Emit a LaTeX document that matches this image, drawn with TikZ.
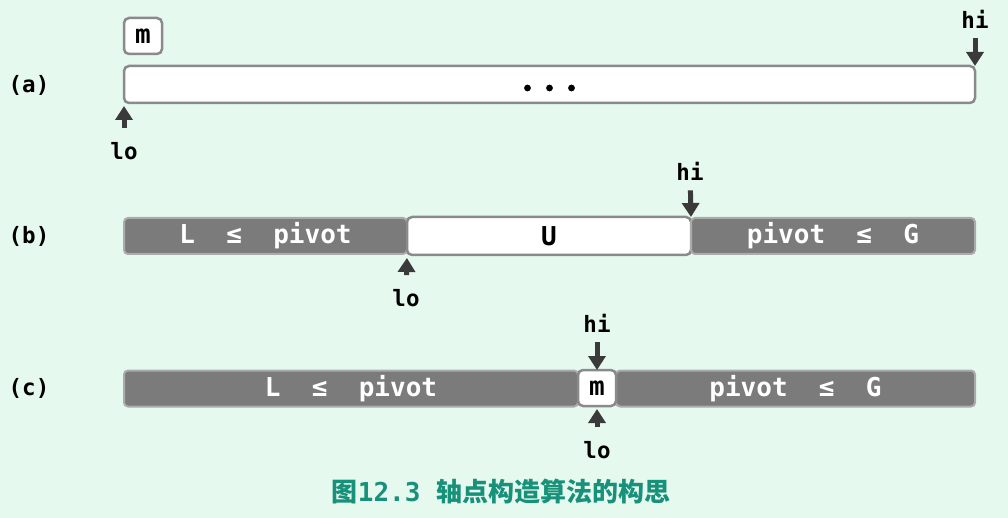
\documentclass[tikz,border=0pt]{standalone}
\usepackage{fontspec}
\setmainfont{DejaVu Sans Mono}
\newfontfamily\cjk{Noto Sans CJK SC}
\usetikzlibrary{arrows.meta}
\definecolor{bgmint}{HTML}{E6F9EF}
\definecolor{bargray}{HTML}{7B7B7B}
\definecolor{barrim}{HTML}{ABABAB}
\definecolor{boxrim}{HTML}{8A8A8A}
\definecolor{ptrdark}{HTML}{3A3A3A}
\definecolor{capteal}{HTML}{17917A}
\tikzset{
  graybar/.style={draw=barrim, line width=2pt, fill=bargray, rounded corners=4pt,
    inner sep=0, outer sep=0, minimum height=36pt, text=white,
    font=\fontsize{26}{30}\selectfont\bfseries},
  whitebar/.style={draw=boxrim, line width=2.5pt, fill=white, rounded corners=5pt,
    inner sep=0, outer sep=0, font=\fontsize{26}{30}\selectfont\bfseries},
  tag/.style={font=\fontsize{22.5}{25}\selectfont\bfseries, inner sep=1pt},
  ptr/.style={-{Triangle[width=17pt,length=14pt]}, line width=5pt, ptrdark, shorten <=9pt},
}
\begin{document}
\begin{tikzpicture}[x=1pt, y=-1pt]
\fill[bgmint] (0,0) rectangle (1008,518);
\useasboundingbox (0,0) rectangle (1008,518);
% (a)
\node[tag] (capA) at (29,85) {(a)};
\node[whitebar, minimum width=851pt, minimum height=37pt] (barA) at (549.5,84.5) {};
\foreach \dx in {-22,0,22}
  \fill ([xshift=\dx pt, yshift=-3.5pt]barA.center) circle (3.4pt);
\node[whitebar, minimum width=38pt, minimum height=36pt] (mA) at (143,36) {m};
\node[tag] (hiA) at (975,19) {hi};
\node[tag] (loA) at (124,151) {lo};
\draw[ptr] (hiA) -- (barA.north east);
\draw[ptr, shorten <=13pt, shorten >=3pt] (loA) -- (barA.south west);
% (b)
\node[tag] (capB) at (29,236) {(b)};
\node[graybar, minimum width=283pt] (lessB) at (265.5,236) {L\ \ ≤\ \ pivot};
\node[whitebar, minimum width=284pt, minimum height=38pt] (openB) at (549,236) {U};
\node[graybar, minimum width=284pt] (moreB) at (833,236) {pivot\ \ ≤\ \ G};
\node[tag] (hiB) at (690,171) {hi};
\node[tag] (loB) at (406,298) {lo};
\draw[ptr] (hiB) -- (openB.north east);
\draw[ptr, shorten <=13pt, shorten >=3pt] (loB) -- (openB.south west);
% (c)
\node[tag] (capC) at (29,388) {(c)};
\node[graybar, minimum width=454pt] (lessC) at (351,388.5) {L\ \ ≤\ \ pivot};
\node[graybar, minimum width=359pt] (moreC) at (795.5,388.5) {pivot\ \ ≤\ \ G};
\node[whitebar, minimum width=38pt, minimum height=36pt] (mC) at (597,388) {m};
\node[tag] (hiC) at (597,323) {hi};
\node[tag] (loC) at (597,450) {lo};
\draw[ptr] (hiC) -- (mC.north);
\draw[ptr, shorten <=13pt, shorten >=3pt] (loC) -- (mC.south);
% caption
\node[font=\fontsize{26}{30}\selectfont\bfseries, text=capteal] (fig) at (501,492)
  {{\cjk 图}12.3 {\cjk 轴点构造算法的构思}};
\end{tikzpicture}
\end{document}
